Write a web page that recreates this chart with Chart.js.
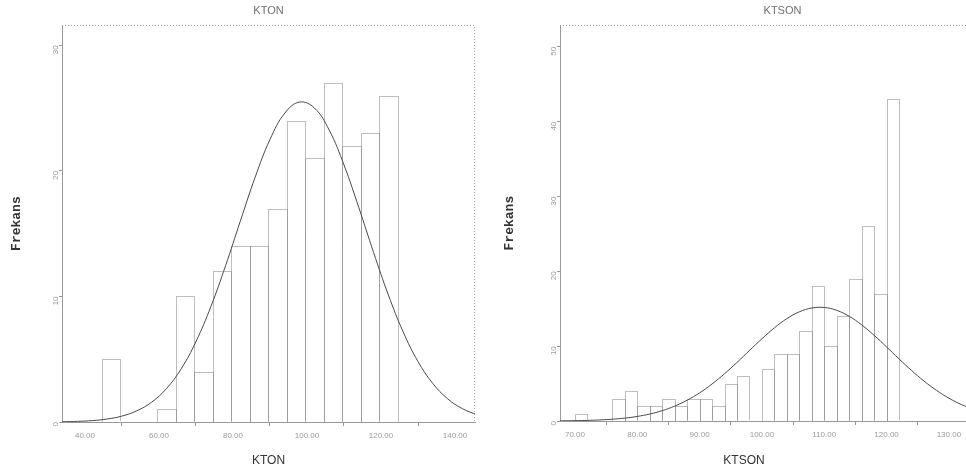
<!DOCTYPE html>
<html><head><meta charset="utf-8">
<script src="https://cdn.jsdelivr.net/npm/chart.js@4/dist/chart.umd.min.js"></script>
<style>
html,body{margin:0;padding:0;background:#fff;overflow:hidden;width:966px;height:471px;position:relative;}
#l{position:absolute;left:0;top:0;width:483px;height:471px;}
#r{position:absolute;left:483px;top:0;width:522px;height:471px;}
</style></head><body>
<div id="l"><canvas id="cl"></canvas></div>
<div id="r"><canvas id="cr"></canvas></div>
<script>
// KTON histogram (bin centres, counts) and fitted normal curve
const ktonBins   = [47,52,57,62,67,72,77,82,87,92,97,102,107,112,117,122];
const ktonCounts = [5,0,0,1,10,4,12,14,14,17,24,21,27,22,23,26];
const ktonCurveX = [30,34,38,42,46,50,54,58,62,66,70,74,78,82,86,90,94,98,102,106,110,114,118,122,126,130,134,138,142,146];
const ktonCurveY = [0.01,0.02,0.05,0.11,0.24,0.47,0.89,1.57,2.65,4.23,6.40,9.17,12.45,16.01,19.50,22.50,24.60,25.48,25.01,23.25,20.47,17.08,13.50,10.11,7.17,4.81,3.07,1.85,1.06,0.57];
const ktonXTicks = [40,60,80,100,120,140];
const ktonYTicks = [0,10,20,30];

// KTSON histogram and fitted normal curve
const ktsonBins   = [71,73,75,77,79,81,83,85,87,89,91,93,95,97,99,101,103,105,107,109,111,113,115,117,119,121];
const ktsonCounts = [1,0,0,3,4,2,2,3,2,3,3,2,5,6,0,7,9,9,12,18,10,14,19,26,17,43];
const ktsonCurveX = [66,68,70,72,74,76,78,80,82,84,86,88,90,92,94,96,98,100,102,104,106,108,110,112,114,116,118,120,122,124,126,128,130,132,134,136,138,140];
const ktsonCurveY = [0.01,0.03,0.05,0.08,0.14,0.24,0.39,0.61,0.93,1.38,1.99,2.78,3.76,4.95,6.32,7.83,9.42,10.99,12.45,13.68,14.59,15.10,15.17,14.79,13.99,12.85,11.45,9.90,8.30,6.76,5.34,4.10,3.05,2.20,1.54,1.05,0.69,0.44];
const ktsonXTicks = [70,80,90,100,110,120,130];
const ktsonYTicks = [0,10,20,30,40,50];

const frame = {
  id: 'frame',
  afterDatasetsDraw(chart) {
    const {ctx, chartArea: a} = chart;
    ctx.save();
    ctx.strokeStyle = '#a0a0a0';
    ctx.lineWidth = 1;
    ctx.setLineDash([1, 2]);
    ctx.beginPath();
    ctx.moveTo(a.left, Math.round(a.top) + 0.5);
    ctx.lineTo(Math.round(a.right) - 0.5, Math.round(a.top) + 0.5);
    ctx.lineTo(Math.round(a.right) - 0.5, a.bottom);
    ctx.stroke();
    ctx.restore();
  }
};

// dotted outline for each bar element, using the element geometry computed by Chart.js
const dottedBars = {
  id: 'dottedBars',
  afterDatasetDraw(chart, args) {
    const meta = args.meta;
    if (meta.type !== 'bar') return;
    const ctx = chart.ctx;
    ctx.save();
    ctx.strokeStyle = '#7c7c7c';
    ctx.lineWidth = 1;
    ctx.setLineDash([1, 1]);
    meta.data.forEach(el => {
      const p = el.getProps(['x', 'y', 'base', 'width'], true);
      if (p.base - p.y < 0.5) return;
      const l = Math.round(p.x - p.width / 2) + 0.5;
      const r = Math.round(p.x + p.width / 2) + 0.5;
      const t = Math.round(p.y) + 0.5;
      const b = p.base;
      ctx.beginPath();
      ctx.moveTo(l, b); ctx.lineTo(l, t); ctx.lineTo(r, t); ctx.lineTo(r, b);
      ctx.stroke();
    });
    ctx.restore();
  }
};

function makeChart(id, o) {
  const axisTitleFont = { family: 'Liberation Sans', size: 12 };
  return new Chart(document.getElementById(id), {
    type: 'bar',
    data: {
      datasets: [
        { type: 'line', data: o.cx.map((x, i) => ({x, y: o.cy[i]})),
          borderColor: '#4a4a4a', borderWidth: 1, pointRadius: 0, tension: 0.4, order: 0 },
        { type: 'bar', data: o.bins.map((x, i) => ({x, y: o.counts[i]})),
          backgroundColor: 'rgba(255,255,255,0)', borderColor: 'rgba(0,0,0,0)', borderWidth: 0,
          barPercentage: 1, categoryPercentage: 1, order: 1 }
      ]
    },
    options: {
      responsive: true, maintainAspectRatio: false, animation: false,
      layout: { padding: { left: 0, right: o.padR, top: 0, bottom: 0 } },
      plugins: {
        legend: { display: false }, tooltip: { enabled: false },
        title: { display: true, text: o.title, fullSize: false, color: '#707070',
                 font: { family: 'Liberation Sans', size: 11, weight: 'normal' }, padding: { top: 4, bottom: 8 } },
        subtitle: { display: o.subX, text: o.title, position: 'bottom', fullSize: true, color: '#333',
                    font: axisTitleFont, padding: { top: 0, bottom: 3 } }
      },
      scales: {
        x: {
          type: 'linear', min: o.xmin, max: o.xmax, offset: false,
          afterBuildTicks: s => { s.ticks = o.xticks.map(v => ({value: v})); },
          afterFit: s => { s.height = o.xh; },
          grid: { drawOnChartArea: false, drawTicks: true, tickLength: 4, color: '#999' },
          border: { display: true, color: '#999', dash: [1, 2] },
          ticks: { color: '#9a9a9a', font: { family: 'Liberation Sans', size: 8 }, padding: 5,
                   maxRotation: 0, minRotation: 0, autoSkip: false, callback: v => Number(v).toFixed(2) },
          title: { display: !o.subX, text: o.title, color: '#333',
                   font: axisTitleFont, padding: { top: 0, bottom: 3 } }
        },
        y: {
          min: 0, max: o.ymax,
          afterBuildTicks: s => { s.ticks = o.yticks.map(v => ({value: v})); },
          afterFit: s => { s.width = o.yw; },
          grid: { drawOnChartArea: false, drawTicks: true, tickLength: 3, color: '#999' },
          border: { display: true, color: '#999', dash: [1, 2] },
          ticks: { color: '#9a9a9a', font: { family: 'Liberation Sans', size: 8 }, padding: 3,
                   minRotation: 90, maxRotation: 90 },
          title: { display: true, text: 'Frekans', color: '#333',
                   font: { family: 'Liberation Mono', size: 13, weight: 'bold' }, padding: { top: o.ytp, bottom: 0 } }
        }
      }
    },
    plugins: [frame, dottedBars]
  });
}

makeChart('cl', { bins: ktonBins, counts: ktonCounts, cx: ktonCurveX, cy: ktonCurveY,
  xticks: ktonXTicks, yticks: ktonYTicks, title: 'KTON', subX: false,
  xmin: 33.8, xmax: 145.4, ymax: 31.6, yw: 62, xh: 49, padR: 8, ytp: 9 });
makeChart('cr', { bins: ktsonBins, counts: ktsonCounts, cx: ktsonCurveX, cy: ktsonCurveY,
  xticks: ktsonXTicks, yticks: ktsonYTicks, title: 'KTSON', subX: true,
  xmin: 67.6, xmax: 139.0, ymax: 52.9, yw: 77, xh: 32.6, padR: 0, ytp: 19 });
</script>
</body></html>
